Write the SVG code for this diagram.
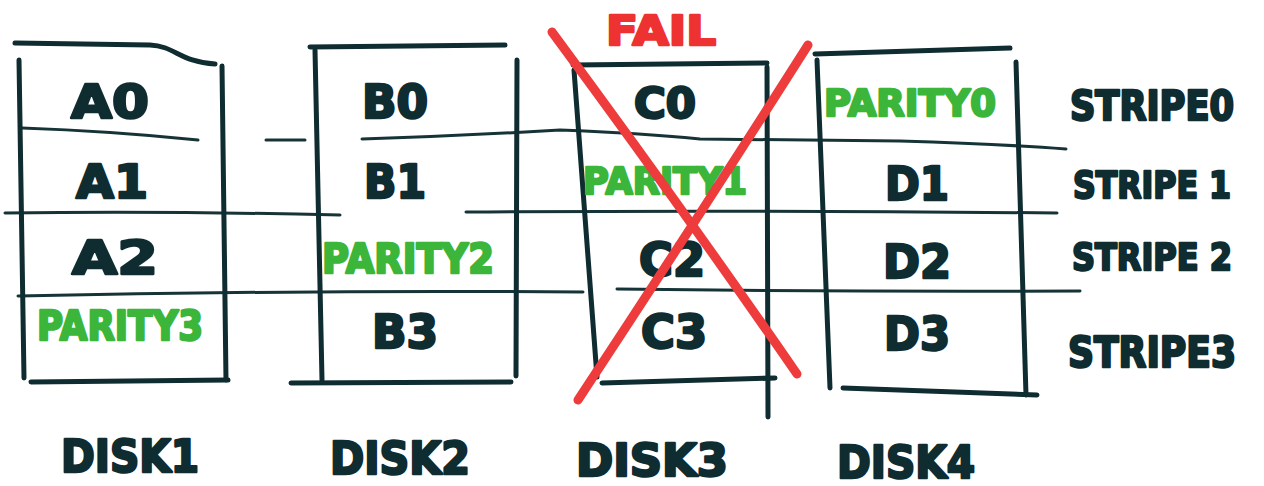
<svg xmlns="http://www.w3.org/2000/svg" width="1264" height="486" viewBox="0 0 1264 486">
  <style>
    .ink { fill: none; stroke: #0f2c30; stroke-width: 5; stroke-linecap: round; stroke-linejoin: round; }
    .rule { fill: none; stroke: #163437; stroke-width: 3; stroke-linecap: round; }
    .txt { font-family: "DejaVu Sans", "Liberation Sans", sans-serif; font-weight: bold; text-anchor: middle;
           fill: #0f2c30; stroke: #0f2c30; stroke-width: 2.5; stroke-linejoin: round; }
    .par { fill: #3bb53a; stroke: #3bb53a; }
    .fail { fill: none; stroke: #ee3b3b; stroke-width: 9; stroke-linecap: round; }
    .red { fill: #ee3232; stroke: #ee3232; }
  </style>

  <rect width="1264" height="486" fill="#ffffff"/>

  <!-- stripe separator lines running across all disks -->
  <g id="connectors">
    <path class="rule" d="M22 128 Q110 131 198 140"/>
    <path class="rule" d="M266 140 L305 140"/>
    <path class="rule" d="M362 139 Q460 136 560 130 Q640 133 700 139 Q800 140 900 141 Q1000 144 1066 149"/>
    <path class="rule" d="M5 213 Q170 211 340 215"/>
    <path class="rule" d="M466 212 Q760 210 1057 213"/>
    <path class="rule" d="M18 296 Q300 290 583 292"/>
    <path class="rule" d="M617 289 Q850 292 1080 291"/>
  </g>

  <g id="disk1">
    <path class="ink" d="M15 43 L150 45 C175 46 180 62 215 64"/>
    <path class="ink" d="M19 60 L24 378"/>
    <path class="ink" d="M222 66 L226 380"/>
    <path class="ink" d="M31 382 L228 380"/>
    <text class="txt" x="110" y="118" font-size="46" textLength="78" lengthAdjust="spacingAndGlyphs">A0</text>
    <text class="txt" x="112" y="198" font-size="46" textLength="72" lengthAdjust="spacingAndGlyphs">A1</text>
    <text class="txt" x="115" y="274" font-size="46" textLength="86" lengthAdjust="spacingAndGlyphs">A2</text>
    <text class="txt par" x="120" y="340" font-size="40" textLength="166" lengthAdjust="spacingAndGlyphs">PARITY3</text>
  </g>

  <g id="disk2">
    <path class="ink" d="M310 47 L505 45"/>
    <path class="ink" d="M315 50 L322 380"/>
    <path class="ink" d="M517 60 L516 376"/>
    <path class="ink" d="M291 383 L511 382"/>
    <text class="txt" x="395" y="118" font-size="46" textLength="66" lengthAdjust="spacingAndGlyphs">B0</text>
    <text class="txt" x="395" y="198" font-size="46" textLength="62" lengthAdjust="spacingAndGlyphs">B1</text>
    <text class="txt par" x="408" y="273" font-size="40" textLength="172" lengthAdjust="spacingAndGlyphs">PARITY2</text>
    <text class="txt" x="405" y="348" font-size="46" textLength="66" lengthAdjust="spacingAndGlyphs">B3</text>
  </g>

  <g id="disk3">
    <path class="ink" d="M573 65 L767 63"/>
    <path class="ink" d="M574 70 L597 377"/>
    <path class="ink" d="M767 67 L768 417"/>
    <path class="ink" d="M602 383 L775 378"/>
    <text class="txt" x="665" y="118" font-size="42" textLength="62" lengthAdjust="spacingAndGlyphs">C0</text>
    <text class="txt par" x="665" y="194" font-size="38" textLength="164" lengthAdjust="spacingAndGlyphs">PARITY1</text>
    <text class="txt" x="672" y="276" font-size="46" textLength="66" lengthAdjust="spacingAndGlyphs">C2</text>
    <text class="txt" x="674" y="348" font-size="46" textLength="66" lengthAdjust="spacingAndGlyphs">C3</text>
  </g>

  <g id="disk4">
    <path class="ink" d="M815 54 L1010 48"/>
    <path class="ink" d="M817 60 L830 388"/>
    <path class="ink" d="M1016 62 L1026 395"/>
    <path class="ink" d="M843 388 L1037 395"/>
    <text class="txt par" x="910" y="116" font-size="38" textLength="172" lengthAdjust="spacingAndGlyphs">PARITY0</text>
    <text class="txt" x="917" y="200" font-size="46" textLength="64" lengthAdjust="spacingAndGlyphs">D1</text>
    <text class="txt" x="917" y="278" font-size="46" textLength="68" lengthAdjust="spacingAndGlyphs">D2</text>
    <text class="txt" x="917" y="350" font-size="46" textLength="66" lengthAdjust="spacingAndGlyphs">D3</text>
  </g>

  <!-- failed disk cross-out -->
  <g id="fail">
    <path class="fail" d="M552 32 Q680 205 797 374"/>
    <path class="fail" d="M808 45 Q700 215 578 400"/>
    <text class="txt red" x="661" y="45" font-size="40" textLength="110" lengthAdjust="spacingAndGlyphs">FAIL</text>
  </g>

  <g id="stripe-labels">
    <text class="txt" x="1152" y="120" font-size="40" textLength="164" lengthAdjust="spacingAndGlyphs">STRIPE0</text>
    <text class="txt" x="1152" y="198" font-size="38" textLength="158" lengthAdjust="spacingAndGlyphs">STRIPE 1</text>
    <text class="txt" x="1152" y="270" font-size="38" textLength="160" lengthAdjust="spacingAndGlyphs">STRIPE 2</text>
    <text class="txt" x="1152" y="367" font-size="42" textLength="168" lengthAdjust="spacingAndGlyphs">STRIPE3</text>
  </g>

  <g id="disk-labels">
    <text class="txt" x="130" y="472" font-size="44" textLength="138" lengthAdjust="spacingAndGlyphs">DISK1</text>
    <text class="txt" x="400" y="474" font-size="44" textLength="140" lengthAdjust="spacingAndGlyphs">DISK2</text>
    <text class="txt" x="652" y="476" font-size="44" textLength="152" lengthAdjust="spacingAndGlyphs">DISK3</text>
    <text class="txt" x="906" y="478" font-size="44" textLength="138" lengthAdjust="spacingAndGlyphs">DISK4</text>
  </g>
</svg>
